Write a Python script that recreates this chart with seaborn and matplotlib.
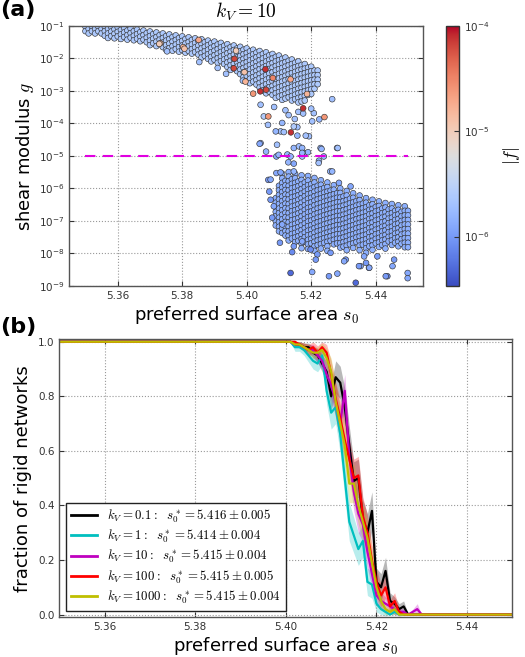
"""
Rigidity transition: shear modulus scatter (a) and fraction of rigid networks (b)
Output: out.png
"""

import matplotlib
matplotlib.use('Agg')
import matplotlib.pyplot as plt
from matplotlib.colors import LogNorm
from matplotlib.ticker import FuncFormatter, NullLocator, FixedLocator
import numpy as np
import pandas as pd
import seaborn as sns

plt.rcParams.update({
    'font.family': ['DejaVu Sans'],
    'mathtext.fontset': 'cm',
    'font.size': 10,
    'xtick.labelsize': 7.5,
    'ytick.labelsize': 7.5,
    'xtick.direction': 'in',
    'ytick.direction': 'in',
    'xtick.top': True,
    'ytick.right': True,
    'xtick.color': '#333333',
    'ytick.color': '#333333',
    'axes.edgecolor': '#555555',
    'axes.linewidth': 1.0,
    'axes.unicode_minus': False,
})

# ---------------- panel (a): shear modulus vs s0 ----------------
# dense rigid band: column positions with top / bottom of log10(g)
upper_s0 = [5.350, 5.351, 5.352, 5.353, 5.354, 5.355, 5.356, 5.357, 5.358, 5.359,
            5.360, 5.361, 5.362, 5.363, 5.364, 5.365, 5.366, 5.367, 5.368, 5.369,
            5.370, 5.371, 5.372, 5.373, 5.374, 5.375, 5.376, 5.377, 5.378, 5.379,
            5.380, 5.381, 5.382, 5.383, 5.384, 5.385, 5.386, 5.387, 5.388, 5.389,
            5.390, 5.391, 5.392, 5.393, 5.394, 5.395, 5.396, 5.397, 5.398, 5.399,
            5.400, 5.401, 5.402, 5.403, 5.404, 5.405, 5.406, 5.407, 5.408, 5.409,
            5.410, 5.411, 5.412, 5.413, 5.414, 5.415, 5.416, 5.417, 5.418, 5.419,
            5.420, 5.421, 5.422]
upper_top = [-1.03, -1.03, -1.03, -1.03, -1.03, -1.03, -1.03, -1.03, -1.04, -1.04,
             -1.05, -1.06, -1.07, -1.08, -1.09, -1.10, -1.12, -1.13, -1.15, -1.16,
             -1.18, -1.19, -1.21, -1.22, -1.24, -1.25, -1.27, -1.28, -1.30, -1.31,
             -1.33, -1.34, -1.36, -1.37, -1.39, -1.40, -1.42, -1.44, -1.46, -1.47,
             -1.49, -1.51, -1.53, -1.55, -1.57, -1.59, -1.61, -1.63, -1.65, -1.67,
             -1.70, -1.72, -1.74, -1.76, -1.78, -1.80, -1.82, -1.84, -1.87, -1.89,
             -1.92, -1.95, -1.98, -2.01, -2.04, -2.07, -2.10, -2.14, -2.18, -2.22,
             -2.26, -2.31, -2.38]
upper_bot = [-1.22, -1.28, -1.25, -1.32, -1.30, -1.36, -1.33, -1.40, -1.37, -1.42,
             -1.40, -1.46, -1.44, -1.50, -1.48, -1.54, -1.52, -1.58, -1.56, -1.62,
             -1.60, -1.66, -1.64, -1.70, -1.68, -1.74, -1.72, -1.78, -1.76, -1.82,
             -1.80, -1.88, -1.86, -1.93, -1.92, -2.00, -1.98, -2.06, -2.05, -2.14,
             -2.13, -2.22, -2.21, -2.30, -2.30, -2.40, -2.40, -2.50, -2.52, -2.62,
             -2.65, -2.78, -2.80, -2.92, -2.95, -3.05, -3.10, -3.15, -3.20, -3.22,
             -3.30, -3.28, -3.35, -3.32, -3.40, -3.38, -3.42, -3.35, -3.38, -3.25,
             -3.20, -3.05, -2.90]

# dense floppy band
lower_s0 = [5.409, 5.410, 5.411, 5.412, 5.413, 5.414, 5.415, 5.416, 5.417, 5.418,
            5.419, 5.420, 5.421, 5.422, 5.423, 5.424, 5.425, 5.426, 5.427, 5.428,
            5.429, 5.430, 5.431, 5.432, 5.433, 5.434, 5.435, 5.436, 5.437, 5.438,
            5.439, 5.440, 5.441, 5.442, 5.443, 5.444, 5.445, 5.446, 5.447, 5.448,
            5.449, 5.450]
lower_top = [-6.30, -5.85, -5.55, -5.70, -5.50, -5.65, -5.55, -5.72, -5.60, -5.75,
             -5.62, -5.80, -5.68, -5.85, -5.75, -5.92, -5.82, -6.00, -5.90, -6.08,
             -6.00, -6.18, -6.08, -6.25, -6.15, -6.32, -6.22, -6.40, -6.30, -6.45,
             -6.35, -6.50, -6.40, -6.55, -6.45, -6.58, -6.48, -6.62, -6.52, -6.65,
             -6.55, -6.62]
lower_bot = [-7.20, -7.40, -7.50, -7.45, -7.65, -7.55, -7.75, -7.65, -7.85, -7.70,
             -7.90, -7.80, -7.95, -7.75, -7.90, -7.80, -7.95, -7.70, -7.85, -7.75,
             -7.95, -7.85, -8.00, -7.80, -7.90, -7.75, -7.95, -7.85, -8.00, -7.90,
             -7.95, -7.80, -7.90, -7.85, -7.95, -7.75, -7.85, -7.70, -7.90, -7.80,
             -7.85, -7.90]
upper_logf = -5.62
lower_logf = -5.85
band_step = 0.14   # spacing of stacked realisations in log10(g)

# scattered points (s0, log10 g, log10 |f|)
scat_s0 = [5.3753, 5.3853, 5.3936, 5.3988, 5.3910,
           5.4043, 5.4094, 5.4146, 5.4162, 5.4172, 5.4193, 5.4229, 5.4280, 5.4105, 5.4110,
           5.4157, 5.4053, 5.4043, 5.4203, 5.4225, 5.4265, 5.4239, 5.4066, 5.4090, 5.4115,
           5.4157, 5.4183, 5.4146, 5.4149, 5.4208, 5.4040, 5.4060, 5.4232, 5.4282, 5.4179,
           5.4129, 5.4146, 5.4224, 5.4223, 5.4126, 5.4092, 5.4172, 5.4190, 5.4259, 5.4092,
           5.4067, 5.4146, 5.4099, 5.4074, 5.4105, 5.4136, 5.4172, 5.4265, 5.4286, 5.4322,
           5.4074, 5.4084, 5.4079, 5.4103, 5.4110, 5.4070,
           5.4136, 5.4203, 5.4255, 5.4281, 5.4338, 5.4353, 5.4379, 5.4436, 5.4452, 5.4499,
           5.4499, 5.4146, 5.4172, 5.4198, 5.4219, 5.4260, 5.4307, 5.4364, 5.4405, 5.4457,
           5.4141, 5.4214, 5.4302, 5.4348, 5.4370, 5.4380, 5.4431,
           5.4120, 5.4160, 5.4200, 5.4085, 5.4130, 5.4175]
scat_logg = [-1.79, -2.12, -2.48, -2.69, -2.30,
             -4.61, -4.66, -4.76, -4.71, -4.76, -4.40, -4.76, -4.76, -4.25, -3.99,
             -4.12, -3.79, -3.43, -3.94, -3.88, -3.26, -5.02, -4.05, -4.25, -4.27,
             -4.38, -4.38, -4.10, -3.87, -3.69, -4.63, -4.87, -4.79, -4.76, -4.92,
             -5.20, -5.24, -5.15, -5.22, -4.96, -5.02, -5.02, -4.89, -5.48, -5.53,
             -5.74, -5.48, -4.97, -5.73, -5.51, -5.02, -4.91, -5.48, -5.83, -5.94,
             -6.35, -6.55, -6.90, -7.67, -7.11, -6.10,
             -8.60, -8.57, -8.70, -8.62, -8.90, -8.39, -8.44, -8.70, -8.39, -8.60,
             -8.76, -7.78, -7.63, -7.88, -8.03, -7.98, -8.19, -8.09, -8.09, -8.19,
             -7.96, -8.19, -8.24, -8.39, -8.29, -8.44, -8.70,
             -3.60, -3.65, -3.55, -3.50, -3.75, -3.70]
scat_logf = [-5.7, -5.7, -5.7, -5.7, -5.7,
             -5.8, -5.7, -5.8, -5.7, -5.8, -5.7, -5.8, -5.7, -5.7, -5.8,
             -5.7, -5.6, -5.7, -5.7, -5.8, -5.7, -5.8, -5.7, -5.8, -5.7,
             -5.8, -5.7, -5.6, -5.7, -5.7, -5.9, -5.8, -5.8, -5.7, -5.8,
             -5.8, -5.9, -5.8, -5.7, -5.8, -5.9, -5.7, -5.8, -5.8, -5.9,
             -6.0, -5.8, -5.8, -5.9, -5.9, -5.8, -5.8, -5.8, -5.9, -5.9,
             -6.0, -5.9, -6.0, -6.0, -5.9, -6.0,
             -6.3, -5.9, -6.0, -5.9, -6.3, -5.9, -6.0, -6.1, -5.9, -5.9,
             -5.9, -6.0, -5.9, -6.1, -6.0, -6.0, -6.0, -5.9, -6.0, -6.0,
             -6.1, -6.0, -5.9, -6.0, -6.0, -5.9, -6.0,
             -5.7, -5.7, -5.7, -5.7, -5.7, -5.7]

# large-residual points (orange / red)
hot_s0 = [5.3732, 5.3803, 5.3851, 5.3960, 5.3996, 5.4020, 5.4042, 5.4058, 5.4060, 5.4081,
          5.4136, 5.4175, 5.4187, 5.4067, 5.4241, 5.4137, 5.3729, 5.3807, 5.3967, 5.3962,
          5.3993]
hot_logg = [-1.54, -1.66, -1.44, -2.31, -2.72, -3.09, -3.02, -2.34, -2.97, -2.61,
            -2.65, -3.54, -3.10, -3.79, -3.81, -4.28, -1.56, -1.71, -1.77, -2.02,
            -2.43]
hot_logf = [-4.8, -4.8, -4.7, -4.2, -4.8, -4.6, -4.1, -4.1, -4.2, -4.5,
            -4.7, -4.1, -4.8, -4.6, -4.6, -4.1, -5.0, -4.9, -5.0, -4.2,
            -4.9]

g_threshold = 1e-5
f_min, f_max = 3.4e-7, 1e-4

# ---------------- panel (b): fraction of rigid networks ----------------
frac_s0 = [5.350, 5.400, 5.401, 5.402, 5.403, 5.404, 5.405, 5.406, 5.407, 5.408, 5.409,
           5.410, 5.411, 5.412, 5.413, 5.414, 5.415, 5.416, 5.417, 5.418, 5.419,
           5.420, 5.421, 5.422, 5.423, 5.424, 5.425, 5.426, 5.427, 5.428, 5.429,
           5.430, 5.450]
frac_k01 = [1.0, 1.0, 1.0, 0.99, 0.99, 0.98, 0.98, 0.96, 0.95, 0.92, 0.89,
            0.80, 0.87, 0.85, 0.76, 0.62, 0.49, 0.50, 0.35, 0.30, 0.38,
            0.12, 0.10, 0.16, 0.05, 0.04, 0.02, 0.03, 0.0, 0.0, 0.0, 0.0, 0.0]
frac_k1 = [1.0, 1.0, 1.0, 0.98, 0.98, 0.97, 0.95, 0.93, 0.92, 0.95, 0.82,
           0.74, 0.76, 0.66, 0.50, 0.34, 0.29, 0.24, 0.27, 0.12, 0.11,
           0.04, 0.02, 0.01, 0.0, 0.01, 0.0, 0.0, 0.0, 0.0, 0.0, 0.0, 0.0]
frac_k10 = [1.0, 1.0, 1.0, 0.99, 0.99, 0.98, 0.97, 0.97, 0.95, 0.93, 0.88,
            0.84, 0.78, 0.70, 0.82, 0.58, 0.45, 0.37, 0.33, 0.23, 0.15,
            0.07, 0.05, 0.04, 0.03, 0.02, 0.01, 0.01, 0.0, 0.01, 0.02, 0.0, 0.0]
frac_k100 = [1.0, 1.0, 1.0, 1.0, 0.99, 0.98, 0.97, 0.98, 0.96, 0.98, 0.96,
             0.88, 0.79, 0.72, 0.64, 0.57, 0.50, 0.51, 0.36, 0.30, 0.20,
             0.12, 0.07, 0.10, 0.03, 0.05, 0.01, 0.0, 0.0, 0.0, 0.0, 0.0, 0.0]
frac_k1000 = [1.0, 1.0, 1.0, 0.99, 0.99, 0.98, 0.97, 0.96, 0.96, 0.97, 0.94,
              0.89, 0.78, 0.70, 0.62, 0.48, 0.48, 0.40, 0.34, 0.28, 0.19,
              0.10, 0.05, 0.02, 0.01, 0.02, 0.0, 0.0, 0.0, 0.0, 0.0, 0.0, 0.0]
err_k01 = [0, 0, 0, 0.01, 0.01, 0.015, 0.015, 0.02, 0.025, 0.03, 0.04,
           0.05, 0.06, 0.06, 0.07, 0.07, 0.07, 0.07, 0.07, 0.07, 0.07,
           0.05, 0.05, 0.05, 0.03, 0.025, 0.02, 0.02, 0, 0, 0, 0, 0]
err_k1 = [0, 0, 0, 0.015, 0.015, 0.02, 0.025, 0.03, 0.03, 0.035, 0.05,
          0.06, 0.06, 0.07, 0.07, 0.07, 0.065, 0.06, 0.06, 0.05, 0.05,
          0.03, 0.02, 0.015, 0, 0.01, 0, 0, 0, 0, 0, 0, 0]
err_k10 = [0, 0, 0, 0.01, 0.01, 0.015, 0.02, 0.02, 0.025, 0.03, 0.045,
           0.05, 0.06, 0.065, 0.06, 0.07, 0.07, 0.07, 0.065, 0.06, 0.05,
           0.035, 0.03, 0.025, 0.02, 0.02, 0.015, 0.01, 0, 0.01, 0.02, 0, 0]
err_k100 = [0, 0, 0, 0, 0.01, 0.015, 0.02, 0.02, 0.025, 0.02, 0.03,
            0.05, 0.06, 0.065, 0.07, 0.07, 0.07, 0.07, 0.07, 0.065, 0.06,
            0.05, 0.04, 0.04, 0.025, 0.03, 0.015, 0, 0, 0, 0, 0, 0]
err_k1000 = [0, 0, 0, 0.01, 0.01, 0.015, 0.02, 0.02, 0.02, 0.025, 0.035,
             0.05, 0.06, 0.065, 0.07, 0.07, 0.07, 0.07, 0.065, 0.06, 0.05,
             0.04, 0.03, 0.02, 0.01, 0.02, 0, 0, 0, 0, 0, 0, 0]

kv_labels = [r'$k_V=0.1:\ \ s_0^*=5.416\pm0.005$',
             r'$k_V=1:\ \ s_0^*=5.414\pm0.004$',
             r'$k_V=10:\ \ s_0^*=5.415\pm0.004$',
             r'$k_V=100:\ \ s_0^*=5.415\pm0.005$',
             r'$k_V=1000:\ \ s_0^*=5.415\pm0.004$']
kv_colors = ['#000000', '#00bfbf', '#bf00bf', '#ff0000', '#bfbf00']


def pow10_label(v, pos):
    return r'$\mathregular{10^{%d}}$' % int(round(np.log10(v)))


def band_points(cols, tops, bots, logf):
    # stack realisations down each column, alternate columns staggered
    rows = []
    for i, (s, hi, lo) in enumerate(zip(cols, tops, bots)):
        start = hi - (i % 2) * band_step / 2
        for lg in np.arange(start, lo - 1e-9, -band_step):
            rows.append((s, 10 ** lg, 10 ** logf))
    return pd.DataFrame(rows, columns=['s0', 'g', 'f'])


fig = plt.figure(figsize=(5.25, 6.57), dpi=100)
ax1 = fig.add_axes([0.132, 0.5647, 0.674, 0.3963])
cax = fig.add_axes([0.849, 0.5647, 0.0254, 0.3963])
ax2 = fig.add_axes([0.113, 0.0604, 0.863, 0.4232])

norm = LogNorm(vmin=f_min, vmax=f_max)
scatter_kw = dict(palette='coolwarm', hue_norm=norm, legend=False, s=17,
                  edgecolor='#333333', linewidth=0.45, ax=ax1)

bands = pd.concat([band_points(upper_s0, upper_top, upper_bot, upper_logf),
                   band_points(lower_s0, lower_top, lower_bot, lower_logf)])
sns.scatterplot(data=bands, x='s0', y='g', hue='f', **scatter_kw)

loose = pd.DataFrame({'s0': scat_s0, 'g': 10 ** np.array(scat_logg),
                      'f': 10 ** np.array(scat_logf)})
sns.scatterplot(data=loose, x='s0', y='g', hue='f', **scatter_kw)

hot = pd.DataFrame({'s0': hot_s0, 'g': 10 ** np.array(hot_logg),
                    'f': 10 ** np.array(hot_logf)})
sns.scatterplot(data=hot, x='s0', y='g', hue='f', **scatter_kw)

ax1.hlines(g_threshold, min(upper_s0), max(lower_s0), colors='#e000e0',
           linestyles=(0, (5, 3.5)), linewidth=1.5, zorder=5)

ax1.set_yscale('log')
ax1.set_xlim(5.345, 5.4547)
ax1.set_ylim(1e-9, 1e-1)
ax1.set_xticks([5.36, 5.38, 5.40, 5.42, 5.44])
ax1.yaxis.set_major_locator(FixedLocator([10.0 ** k for k in range(-9, 0)]))
ax1.yaxis.set_minor_locator(NullLocator())
ax1.yaxis.set_major_formatter(FuncFormatter(pow10_label))
ax1.grid(True, color='#999999', linestyle=':', linewidth=0.8)
ax1.set_axisbelow(True)
ax1.set_xlabel(r'preferred surface area $s_0$', fontsize=13, labelpad=2)
ax1.set_ylabel(r'shear modulus $g$', fontsize=13, labelpad=2)
ax1.set_title(r'$k_V=10$', fontsize=14, pad=6)

sm = plt.cm.ScalarMappable(norm=norm, cmap='coolwarm')
cb = fig.colorbar(sm, cax=cax)
cb.set_ticks([1e-6, 1e-5, 1e-4])
cb.ax.yaxis.set_major_formatter(FuncFormatter(pow10_label))
cb.ax.yaxis.set_minor_locator(NullLocator())
cb.outline.set_edgecolor('#333333')
cb.set_label(r'$|f|$', fontsize=13, labelpad=8)

# panel (b)
fracs = [frac_k01, frac_k1, frac_k10, frac_k100, frac_k1000]
errs = [err_k01, err_k1, err_k10, err_k100, err_k1000]
long = pd.concat([pd.DataFrame({'s0': frac_s0, 'frac': fr, 'kv': lab})
                  for fr, lab in zip(fracs, kv_labels)])

for fr, er, col in zip(fracs, errs, kv_colors):
    fr, er = np.array(fr), np.array(er)
    ax2.fill_between(frac_s0, fr - er, fr + er, color=col, alpha=0.28,
                     linewidth=0)

sns.lineplot(data=long, x='s0', y='frac', hue='kv', hue_order=kv_labels,
             palette=kv_colors, estimator=None, sort=False, linewidth=1.6,
             ax=ax2)

ax2.set_xlim(5.35, 5.45)
ax2.set_ylim(-0.01, 1.009)
ax2.set_xticks([5.36, 5.38, 5.40, 5.42, 5.44])
ax2.set_yticks([0.0, 0.2, 0.4, 0.6, 0.8, 1.0])
ax2.grid(True, color='#999999', linestyle=':', linewidth=0.8)
ax2.set_xlabel(r'preferred surface area $s_0$', fontsize=13, labelpad=2)
ax2.set_ylabel('fraction of rigid networks', fontsize=13, labelpad=4)
leg = ax2.legend(loc='lower left', fontsize=9.3, fancybox=False, frameon=True,
                 edgecolor='#222222', handlelength=2.0, labelspacing=0.22,
                 borderpad=0.4, framealpha=1)
leg.get_frame().set_linewidth(1.0)
for h in leg.get_lines():
    h.set_linewidth(2.0)

fig.text(0.0, 0.985, '(a)', fontsize=16, fontweight='bold', ha='left', va='center')
fig.text(0.0, 0.502, '(b)', fontsize=16, fontweight='bold', ha='left', va='center')

fig.savefig('out.png', dpi=100)
plt.close(fig)
